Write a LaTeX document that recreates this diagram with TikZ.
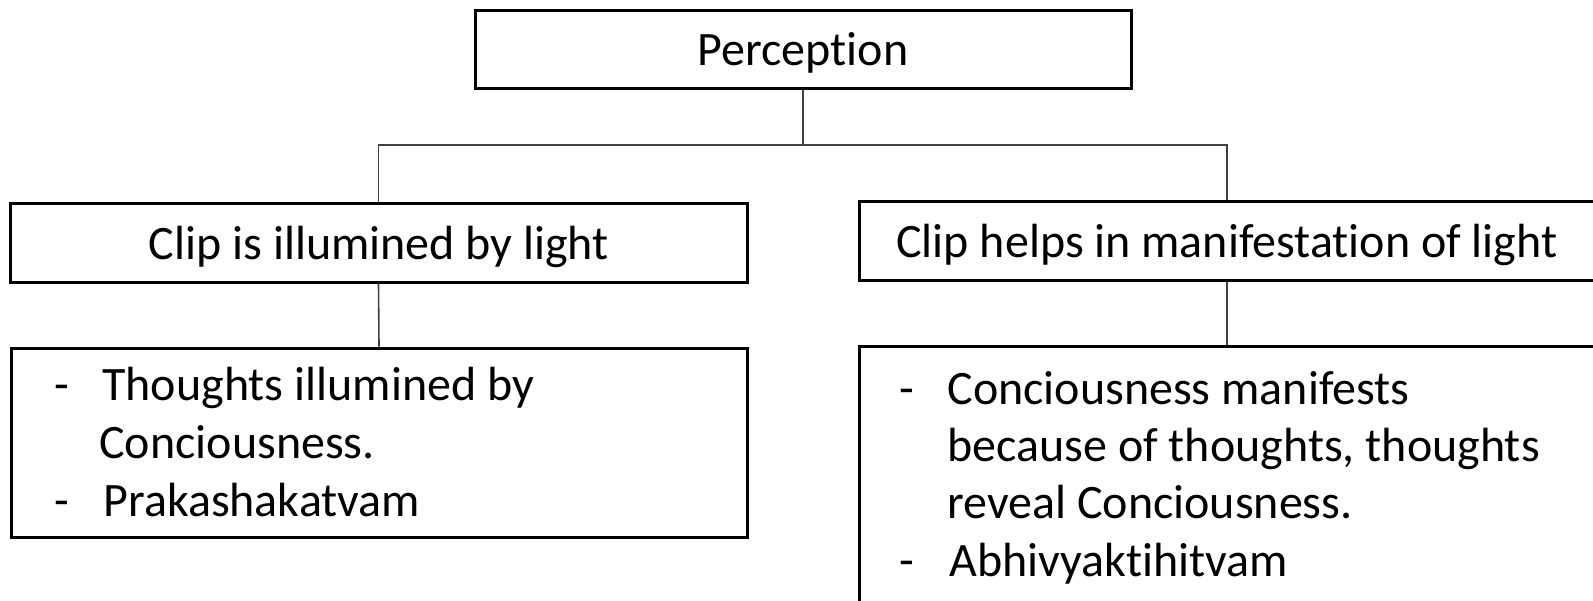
\documentclass[tikz,border=0pt]{standalone}
\usepackage{fontspec}
\setmainfont[Ligatures=NoCommon]{Carlito}
\usetikzlibrary{fit}
\begin{document}
\begin{tikzpicture}[x=0.5pt,y=-0.5pt,
  box/.style={draw=black, line width=1.5pt, rectangle, inner sep=0pt},
  link/.style={draw=black!75, line width=0.8pt},
  txt/.style={font=\fontsize{24}{29}\selectfont, inner sep=0pt, text=black, anchor=base},
  item/.style={txt, anchor=base west}]
\useasboundingbox (0,0) rectangle (1593,600);
\clip (0,0) rectangle (1593,600);

% boxes
\node[box, fit={(475,10) (1131,88)}] (perc) {};
\node[box, fit={(10,203) (747,282)}] (midL) {};
\node[box, fit={(859,201) (1595,280)}] (midR) {};
\node[box, fit={(11,348) (747,537)}] (lowL) {};
\node[box, fit={(859,346) (1595,660)}] (lowR) {};

% branching connectors
\coordinate (hub) at (803,145);
\draw[link] (perc.south) -- (hub);
\draw[link] (hub) -| (midL.north);
\draw[link] (hub) -| (midR.north);
\draw[link] (midL.south) -- (lowL.north);
\draw[link] (midR.south) -- (lowR.north);

% titles
\node[txt] (tPerc) at (803,65) {Perception};
\node[txt] (tMidL) at (379,259) {Clip is illumined by light};
\node[txt] (tMidR) at (1227,257) {Clip helps in manifestation of light};

% left list
\node[item] (dL1) at (54,400) {-};
\node[item] (iL1) at (102,400) {Thoughts illumined by};
\node[item] (iL2) at (99,458) {Conciousness.};
\node[item] (dL2) at (54,516) {-};
\node[item] (iL3) at (103,516) {Prakashakatvam};

% right list
\node[item] (dR1) at (899,404) {-};
\node[item] (iR1) at (947,404) {Conciousness manifests};
\node[item] (iR2) at (947,461) {because of thoughts, thoughts};
\node[item] (iR3) at (947,518) {reveal Conciousness.};
\node[item] (dR2) at (899,576) {-};
\node[item] (iR4) at (949,576) {Abhivyaktihitvam};
\end{tikzpicture}
\end{document}
